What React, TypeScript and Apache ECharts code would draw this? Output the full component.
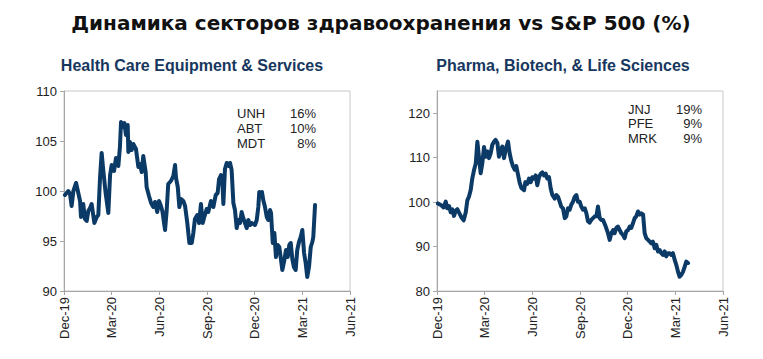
import React, { useEffect, useRef } from "react";
import * as echarts from "echarts";

const TITLE = "Динамика секторов здравоохранения vs S&P 500 (%)";
const LEFT_TITLE = "Health Care Equipment & Services";
const RIGHT_TITLE = "Pharma, Biotech, & Life Sciences";
const X_LABELS = ["Dec-19", "Mar-20", "Jun-20", "Sep-20", "Dec-20", "Mar-21", "Jun-21"];

const LEFT_NAMES = ["UNH", "ABT", "MDT"];
const LEFT_WEIGHTS = ["16%", "10%", "8%"];
const RIGHT_NAMES = ["JNJ", "PFE", "MRK"];
const RIGHT_WEIGHTS = ["19%", "9%", "9%"];

// x = months since Dec-2019
const hcMonths = [0.06,0.27,0.38,0.48,0.59,0.76,0.90,1.01,1.07,1.21,1.32,1.43,1.53,1.64,1.74,1.91,2.06,2.16,2.27,2.37,2.47,2.62,2.79,2.90,3.00,3.15,3.27,3.42,3.52,3.59,3.69,3.80,3.90,4.01,4.05,4.15,4.26,4.36,4.53,4.68,4.78,4.89,4.99,5.14,5.20,5.35,5.48,5.62,5.73,5.87,5.98,6.10,6.19,6.36,6.46,6.56,6.73,6.88,6.99,7.05,7.16,7.26,7.36,7.51,7.62,7.76,7.89,8.04,8.14,8.24,8.39,8.50,8.62,8.73,8.83,8.98,9.08,9.25,9.40,9.55,9.67,9.76,9.88,9.96,10.03,10.13,10.24,10.38,10.45,10.55,10.66,10.76,10.87,10.97,11.08,11.18,11.28,11.39,11.50,11.60,11.71,11.81,11.91,12.02,12.13,12.23,12.29,12.38,12.46,12.54,12.65,12.76,12.86,12.97,13.03,13.14,13.24,13.34,13.45,13.55,13.66,13.74,13.87,13.97,14.08,14.18,14.27,14.37,14.47,14.58,14.68,14.79,14.90,15.00,15.11,15.21,15.31,15.42,15.53,15.63,15.69,15.80];
const hcValues = [99.6,100.0,99.7,98.5,100,100.8,99.8,99,97.4,98.7,97.2,97,98,98.3,98.7,96.8,97.4,97.6,101.4,103.8,102.1,99.8,97.8,101.6,102.6,102,103.3,102.5,104.4,106.9,106.4,106.8,105.6,106.6,103.9,104.9,104.1,104.7,104.2,102.4,102.7,101.9,103.5,101.9,100.4,99.5,98.8,98.4,98.9,97.9,99,98.5,98,96.1,98,100.7,101,101.5,102.6,101.3,100.4,98.4,99.2,99,98.5,96.8,94.8,94.8,95.8,97.2,97.6,96.8,98.7,96.8,97.4,98.2,97.9,99,98.4,99.6,99.8,101.2,101.6,101.3,98.7,102.2,102.8,102.5,102.8,102.1,98.8,98.1,96.3,97.1,96.8,97.9,97.3,96.8,96.3,97.1,96.6,96.8,96.7,96.6,97.1,98.4,99.9,99.7,99.9,99.1,98.4,97.4,97.1,98.1,97.8,94.8,95.8,93.4,94.6,94.4,93.1,92.1,93.1,94.1,93.4,94.6,94.8,93.2,92.4,92.1,94.1,94.9,95.4,96.1,93.8,92.8,91.4,92.4,94.4,94.9,95.4,98.6];

const phMonths = [0.06,0.27,0.42,0.55,0.65,0.76,0.86,0.96,1.07,1.18,1.28,1.38,1.53,1.68,1.81,1.91,2.01,2.12,2.22,2.33,2.44,2.54,2.64,2.75,2.85,2.96,3.07,3.17,3.27,3.38,3.48,3.59,3.69,3.80,3.90,4.01,4.11,4.22,4.32,4.47,4.57,4.68,4.78,4.89,4.99,5.10,5.20,5.31,5.48,5.56,5.68,5.79,5.90,6.00,6.10,6.21,6.31,6.42,6.53,6.63,6.73,6.84,6.94,7.05,7.16,7.26,7.41,7.51,7.62,7.72,7.82,7.93,8.04,8.14,8.24,8.35,8.45,8.56,8.67,8.77,8.87,8.98,9.08,9.19,9.30,9.40,9.50,9.61,9.71,9.82,9.93,10.03,10.13,10.24,10.34,10.45,10.62,10.76,10.87,10.97,11.08,11.18,11.29,11.39,11.50,11.60,11.71,11.81,11.91,12.02,12.13,12.23,12.34,12.44,12.54,12.65,12.76,12.86,12.97,13.07,13.17,13.28,13.39,13.49,13.59,13.70,13.80,13.91,14.02,14.12,14.22,14.33,14.43,14.54,14.64,14.75,14.85,14.96,15.06,15.17,15.27,15.37,15.48,15.59,15.69,15.80];
const phValues = [99.7,99.3,98.8,100.1,98.6,99.1,97.7,98.4,96.9,98.1,98.4,97.7,96.6,95.9,97.7,100.4,101.2,102.7,105.3,107.2,108.7,113.6,110.2,106.5,108.7,112.4,110.2,111.4,109.9,111,112.9,113.6,114,113.3,110.2,111.8,112.5,109.9,111.8,113.6,111,109.2,108.1,107.3,108.1,106.2,104.4,103.2,102.7,104.5,104.1,105.3,104.5,105.6,105.3,106,103.8,105.6,106.4,106.7,106,106.4,105.3,105.6,103,101.6,100.8,101.6,101.2,100.1,99,98.6,96.4,96.8,98.6,98.3,99.4,100.1,101.2,101.6,100.1,100.1,99,98.3,98.6,97.5,95.7,95.4,96,96.4,96.8,96.8,99,96.4,96,96,94.5,93,91.5,93,93.7,93,94.2,94.5,93.7,93,92.6,91.9,93.4,93.7,94.5,94.2,95.3,96.4,96.8,97.9,97.2,97.5,97.2,93,91.9,91.5,91.1,90.7,91.1,89.6,90.4,88.9,89.2,88.5,88.1,88.9,87.8,88.5,88.5,88.1,88.5,87,85.9,84.3,83.2,83.6,84.3,85.5,86.6,86.3];

const LINE_COLOR = "#0C3A66";
const TEXT_COLOR = "#222222";
const AXIS_GRAY = "#A6A6A6";
const FONT = "'Liberation Sans', Arial, sans-serif";

function zip(xs: number[], ys: number[]) {
  return xs.map((x, i) => [x, ys[i]]);
}

function xAxisCfg(gridIndex: number) {
  return {
    type: "value",
    gridIndex,
    min: 0,
    max: 18,
    interval: 3,
    splitLine: { show: false },
    axisLine: { show: true, lineStyle: { color: AXIS_GRAY, width: 1 } },
    axisTick: { show: true, length: 4, lineStyle: { color: AXIS_GRAY } },
    axisLabel: {
      rotate: 90,
      margin: 6,
      color: TEXT_COLOR,
      fontFamily: FONT,
      fontSize: 13,
      formatter: (v: number) => X_LABELS[Math.round(v / 3)] ?? "",
    },
  };
}

function yAxisCfg(gridIndex: number, min: number, max: number, interval: number) {
  return {
    type: "value",
    gridIndex,
    min,
    max,
    interval,
    splitLine: { show: false },
    axisLine: { show: true, lineStyle: { color: AXIS_GRAY, width: 1 } },
    axisTick: { show: true, length: 4, lineStyle: { color: AXIS_GRAY } },
    axisLabel: {
      margin: 7,
      color: TEXT_COLOR,
      fontFamily: FONT,
      fontSize: 13,
      showMaxLabel: max % interval === 0,
    },
  };
}

function annot(names: string[], weights: string[], xName: number, xPct: number, ys: number[]) {
  const out: any[] = [];
  names.forEach((n, i) => {
    out.push({
      type: "text",
      x: xName,
      y: ys[i],
      style: { text: n, fill: TEXT_COLOR, font: `13px ${FONT}`, textAlign: "left", textVerticalAlign: "middle" },
    });
    out.push({
      type: "text",
      x: xPct,
      y: ys[i],
      style: { text: weights[i], fill: TEXT_COLOR, font: `13px ${FONT}`, textAlign: "right", textVerticalAlign: "middle" },
    });
  });
  return out;
}

export default function App() {
  const ref = useRef<HTMLDivElement>(null);
  useEffect(() => {
    if (!ref.current) return;
    const chart = echarts.init(ref.current, undefined, { renderer: "svg" });
    chart.setOption({
      animation: false,
      backgroundColor: "#ffffff",
      grid: [
        { left: 64, top: 91, width: 286, height: 200, show: true, borderColor: "#C8C8C8", borderWidth: 1 },
        { left: 437, top: 91, width: 286, height: 200, show: true, borderColor: "#C8C8C8", borderWidth: 1 },
      ],
      xAxis: [xAxisCfg(0), xAxisCfg(1)],
      yAxis: [yAxisCfg(0, 90, 110, 5), yAxisCfg(1, 80, 125, 10)],
      series: [
        {
          type: "line",
          xAxisIndex: 0,
          yAxisIndex: 0,
          data: zip(hcMonths, hcValues),
          showSymbol: false,
          lineStyle: { color: LINE_COLOR, width: 4, join: "round", cap: "round" },
        },
        {
          type: "line",
          xAxisIndex: 1,
          yAxisIndex: 1,
          data: zip(phMonths, phValues),
          showSymbol: false,
          lineStyle: { color: LINE_COLOR, width: 4, join: "round", cap: "round" },
        },
      ],
      graphic: [
        {
          type: "text",
          x: 381,
          y: 23,
          style: {
            text: TITLE,
            fill: "#111111",
            font: "bold 20px 'DejaVu Sans', sans-serif",
            textAlign: "center",
            textVerticalAlign: "middle",
          },
        },
        {
          type: "text",
          x: 192,
          y: 65,
          style: { text: LEFT_TITLE, fill: "#17375E", font: `bold 16px ${FONT}`, textAlign: "center", textVerticalAlign: "middle" },
        },
        {
          type: "text",
          x: 563,
          y: 65,
          style: { text: RIGHT_TITLE, fill: "#17375E", font: `bold 16px ${FONT}`, textAlign: "center", textVerticalAlign: "middle" },
        },
        ...annot(LEFT_NAMES, LEFT_WEIGHTS, 237, 316, [113, 128, 143]),
        ...annot(RIGHT_NAMES, RIGHT_WEIGHTS, 628, 702, [109, 123.5, 138]),
      ],
    });
    return () => chart.dispose();
  }, []);
  return (
    <div
      ref={ref}
      style={{ position: "fixed", left: 0, top: 0, width: 763, height: 359, background: "#fff" }}
    />
  );
}
